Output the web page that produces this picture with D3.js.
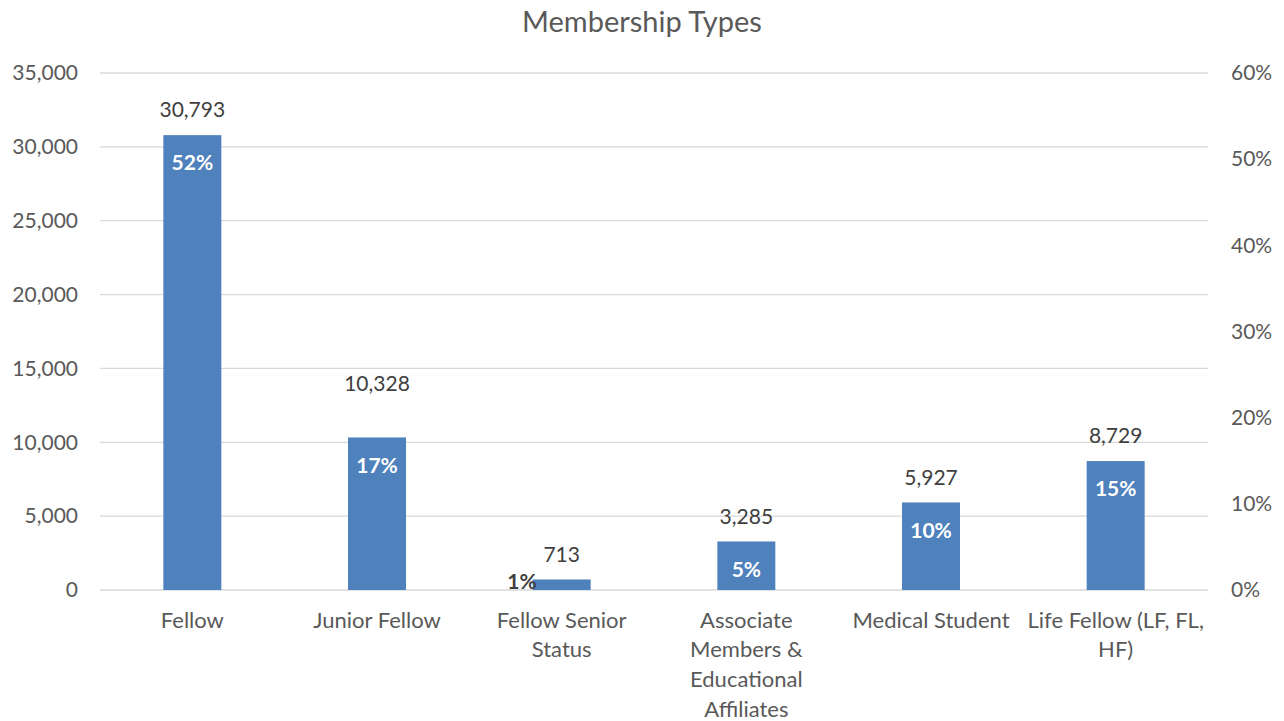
<!DOCTYPE html>
<html>
<head>
<meta charset="utf-8">
<script src="https://cdn.jsdelivr.net/npm/d3@7"></script>
<style>
  body { margin: 0; background: #fff; }
  svg text { font-family: Lato, "Open Sans", sans-serif; }
</style>
</head>
<body>
<div id="chart"></div>
<script>
const categories = [
  "Fellow",
  "Junior Fellow",
  "Fellow Senior Status",
  "Associate Members & Educational Affiliates",
  "Medical Student",
  "Life Fellow (LF, FL, HF)"
];
const members = [30793, 10328, 713, 3285, 5927, 8729];
const shares = [0.52, 0.17, 0.01, 0.05, 0.10, 0.15];
const leftTicks = [0, 5000, 10000, 15000, 20000, 25000, 30000, 35000];
const rightTicks = [0, 0.1, 0.2, 0.3, 0.4, 0.5, 0.6];
// wrapped category text, as drawn under the axis
const categoryLines = [
  ["Fellow"],
  ["Junior Fellow"],
  ["Fellow Senior", "Status"],
  ["Associate", "Members &", "Educational", "Affiliates"],
  ["Medical Student"],
  ["Life Fellow (LF, FL,", "HF)"]
];

const width = 1284, height = 721;
const margin = { top: 73, right: 76, bottom: 131, left: 100 };
const innerW = width - margin.left - margin.right;
const innerH = height - margin.top - margin.bottom;

const svg = d3.select("#chart").append("svg")
  .attr("width", width)
  .attr("height", height);

svg.append("text")
  .attr("x", width / 2)
  .attr("y", 22)
  .attr("dy", "0.35em")
  .attr("text-anchor", "middle")
  .attr("fill", "#595959")
  .attr("font-size", 29)
  .text("Membership Types");

const g = svg.append("g")
  .attr("transform", `translate(${margin.left},${margin.top})`);

const x = d3.scaleBand()
  .domain(categories)
  .range([0, innerW])
  .paddingInner(0.686)
  .paddingOuter(0.343);

const yLeft = d3.scaleLinear().domain([0, 35000]).range([innerH, 0]);
const yRight = d3.scaleLinear().domain([0, 0.6]).range([innerH, 0]);

// gridlines
g.selectAll(".grid")
  .data(leftTicks)
  .join("line")
  .attr("class", "grid")
  .attr("x1", 0)
  .attr("x2", innerW)
  .attr("y1", d => yLeft(d))
  .attr("y2", d => yLeft(d))
  .attr("stroke", "#d9d9d9")
  .attr("stroke-width", 1.3);

const leftAxis = g.append("g")
  .call(d3.axisLeft(yLeft).tickValues(leftTicks).tickFormat(d3.format(",")).tickSize(0).tickPadding(22));
leftAxis.select(".domain").remove();
leftAxis.selectAll("text").attr("font-size", 21).attr("fill", "#595959");

const rightAxis = g.append("g")
  .attr("transform", `translate(${innerW},0)`)
  .call(d3.axisRight(yRight).tickValues(rightTicks).tickFormat(d3.format(".0%")).tickSize(0).tickPadding(23));
rightAxis.select(".domain").remove();
rightAxis.selectAll("text").attr("font-size", 21).attr("fill", "#595959");

const data = categories.map((c, i) => ({ name: c, value: members[i], share: shares[i], lines: categoryLines[i] }));

g.selectAll(".bar")
  .data(data)
  .join("rect")
  .attr("class", "bar")
  .attr("x", d => x(d.name))
  .attr("y", d => yLeft(d.value))
  .attr("width", x.bandwidth())
  .attr("height", d => innerH - yLeft(d.value))
  .attr("fill", "#4f81bd");

// value labels above bars (Junior Fellow label was lifted in the original)
const valueLift = { "Junior Fellow": 29 };
g.selectAll(".value")
  .data(data)
  .join("text")
  .attr("class", "value")
  .attr("x", d => x(d.name) + x.bandwidth() / 2)
  .attr("y", d => yLeft(d.value) - 25 - (valueLift[d.name] || 0))
  .attr("dy", "0.35em")
  .attr("text-anchor", "middle")
  .attr("font-size", 21)
  .attr("fill", "#404040")
  .text(d => d3.format(",")(d.value));

// percentage labels inside the bars
const isTall = d => innerH - yLeft(d.value) > 40;
g.selectAll(".share")
  .data(data)
  .join("text")
  .attr("class", "share")
  .attr("x", d => isTall(d) ? x(d.name) + x.bandwidth() / 2 : x(d.name) + 4)
  .attr("y", d => isTall(d) ? yLeft(d.value) + 28 : yLeft(d.value) + 2)
  .attr("dy", "0.35em")
  .attr("text-anchor", d => isTall(d) ? "middle" : "end")
  .attr("font-size", 21)
  .attr("font-weight", "bold")
  .attr("fill", d => isTall(d) ? "#ffffff" : "#404040")
  .text(d => d3.format(".0%")(d.share));

// category labels
const cat = g.selectAll(".cat")
  .data(data)
  .join("text")
  .attr("class", "cat")
  .attr("text-anchor", "middle")
  .attr("font-size", 22)
  .attr("fill", "#595959")
  .attr("transform", d => `translate(${x(d.name) + x.bandwidth() / 2},${innerH + 30})`);

cat.selectAll("tspan")
  .data(d => d.lines)
  .join("tspan")
  .attr("x", 0)
  .attr("y", (d, i) => i * 29.7)
  .attr("dy", "0.35em")
  .text(d => d);
</script>
</body>
</html>
